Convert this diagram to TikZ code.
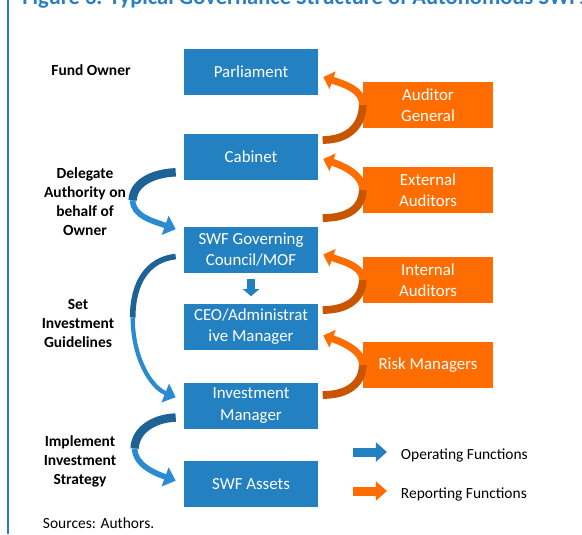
\documentclass[tikz,border=0pt]{standalone}
\usepackage{fontspec}
\setmainfont{Carlito}
\usepackage{tikz}
\usetikzlibrary{positioning,arrows.meta,calc}

\definecolor{swfblue}{HTML}{2381C2}
\definecolor{swfbluedark}{HTML}{1D6395}
\definecolor{swfbluelight}{HTML}{2A8BD2}
\definecolor{swforange}{HTML}{FF6C00}
\definecolor{swforangedark}{HTML}{C95500}
\definecolor{swftitle}{HTML}{2A7EC3}

\begin{document}
\begin{tikzpicture}[
    x=0.025cm, y=-0.025cm,
    opbox/.style={fill=swfblue, text=white, inner sep=1pt, minimum width=3.35cm, minimum height=1.15cm, align=center, font=\fontsize{12}{15}\selectfont},
    repbox/.style={fill=swforange, text=white, inner sep=1pt, minimum width=3.25cm, minimum height=1.15cm, align=center, font=\fontsize{12}{15}\selectfont},
    lbl/.style={align=center, font=\fontsize{11}{13.5}\selectfont\bfseries},
    legtext/.style={anchor=west, font=\fontsize{11}{13.5}\selectfont},
    optail/.style={draw=swfbluedark, line width=6pt},
    ophead/.style={draw=swfbluelight, line width=4pt, -{Triangle[width=14pt,length=8pt]}},
    reptail/.style={draw=swforangedark, line width=5.5pt},
    rephead/.style={draw=swforange, line width=5pt, -{Triangle[width=13pt,length=7pt]}},
    block/.style={line width=6.4pt, -{Triangle[width=13.5pt,length=8pt]}}
  ]
    \path[use as bounding box, fill=white] (0,0) rectangle (582,534);
    \draw[swftitle, line width=1.4pt] (8,0) -- (8,534);
    \node[anchor=base west, inner sep=0pt, text=swftitle, font=\fontsize{16}{18}\selectfont\bfseries] (title) at (22,4) {Figure 3. Typical Governance Structure of Autonomous SWFs};

    % chain of owners and managers
    \node[opbox] (parl) at (251,72) {Parliament};
    \node[opbox] (cab) at (251,157) {Cabinet};
    \node[opbox] (gov) at (251,249.5) {SWF Governing\\Council/MOF};
    \node[opbox] (ceo) at (251,326.5) {CEO/Administrat\\ive Manager};
    \node[opbox] (inv) at (251,405.5) {Investment\\Manager};
    \node[opbox] (assets) at (251,484) {SWF Assets};

    % reporting side
    \node[repbox] (ag) at (428,105) {Auditor\\General};
    \node[repbox] (ext) at (428,190) {External\\Auditors};
    \node[repbox] (int) at (428,280) {Internal\\Auditors};
    \node[repbox] (risk) at (428,365) {Risk Managers};

    % functions on the left
    \node[lbl] (owner) at (91,70) {Fund Owner};
    \node[lbl] (delegate) at (85,202) {Delegate\\Authority on\\behalf of\\Owner};
    \node[lbl] (guide) at (78,323) {Set\\Investment\\Guidelines};
    \node[lbl] (impl) at (80,461) {Implement\\Investment\\Strategy};

    % curved reporting arrows
    \coordinate (ag1) at ($(ag.west)+(-40,35)$);
    \coordinate (ag2) at ($(parl.east)+(5,5)$);
    \draw[reptail] (ag1) .. controls +(28,0) and +(0,18) .. (ag.west);
    \draw[rephead] (ag.west) .. controls +(0,-16) and +(20,7) .. (ag2);
    \coordinate (ext1) at ($(ext.west)+(-40,28)$);
    \coordinate (ext2) at ($(cab.east)+(5,2)$);
    \draw[reptail] (ext1) .. controls +(28,0) and +(0,16) .. (ext.west);
    \draw[rephead] (ext.west) .. controls +(0,-16) and +(20,7) .. (ext2);
    \coordinate (int1) at ($(int.west)+(-40,30)$);
    \coordinate (int2) at ($(gov.east)+(5,5)$);
    \draw[reptail] (int1) .. controls +(28,0) and +(0,16) .. (int.west);
    \draw[rephead] (int.west) .. controls +(0,-14) and +(20,7) .. (int2);
    \coordinate (risk1) at ($(risk.west)+(-40,30)$);
    \coordinate (risk2) at ($(ceo.east)+(5,9)$);
    \draw[reptail] (risk1) .. controls +(28,0) and +(0,16) .. (risk.west);
    \draw[rephead] (risk.west) .. controls +(0,-14) and +(20,7) .. (risk2);

    % curved operating arrows
    \coordinate (del1) at ($(cab.south west)+(-8,-8)$);
    \coordinate (del2) at ($(cab.south west)+(-51,20)$);
    \coordinate (del3) at ($(gov.north west)+(-8,3)$);
    \draw[optail] (del1) .. controls +(-25,1) and +(0,-16) .. (del2);
    \draw[ophead] (del2) .. controls +(0,16) and +(-22,-8) .. (del3);
    \coordinate (set1) at ($(gov.west)+(-8,7)$);
    \coordinate (set2) at ($(gov.west)+(-51,68)$);
    \coordinate (set3) at ($(inv.north west)+(-8,15)$);
    \draw[optail, line width=4pt] (set1) .. controls +(-28,3) and +(0,-35) .. (set2);
    \draw[ophead, line width=3pt] (set2) .. controls +(0,40) and +(-25,-10) .. (set3);
    \coordinate (imp1) at ($(inv.west)+(-8,12)$);
    \coordinate (imp2) at ($(inv.west)+(-49,43)$);
    \coordinate (imp3) at ($(assets.north west)+(-8,20)$);
    \draw[optail] (imp1) .. controls +(-25,1) and +(0,-16) .. (imp2);
    \draw[ophead] (imp2) .. controls +(0,16) and +(-22,-8) .. (imp3);

    \draw[block, draw=swfblue, line width=6pt, -{Triangle[width=11.5pt,length=5pt]}, shorten <=4.3pt, shorten >=5pt] (gov) -- (ceo);

    % legend
    \coordinate (opA) at (353,452);
    \coordinate (opB) at (387,452);
    \coordinate (repA) at (353,491);
    \coordinate (repB) at (387,491);
    \draw[block, draw=swfblue] (opA) -- (opB);
    \draw[block, draw=swforange] (repA) -- (repB);
    \node[legtext] (optext) at (396,455) {Operating Functions};
    \node[legtext] (reptext) at (396,494) {Reporting Functions};

    \node[legtext] (src) at (38,523) {Sources: Authors.};
  \end{tikzpicture}
\end{document}
